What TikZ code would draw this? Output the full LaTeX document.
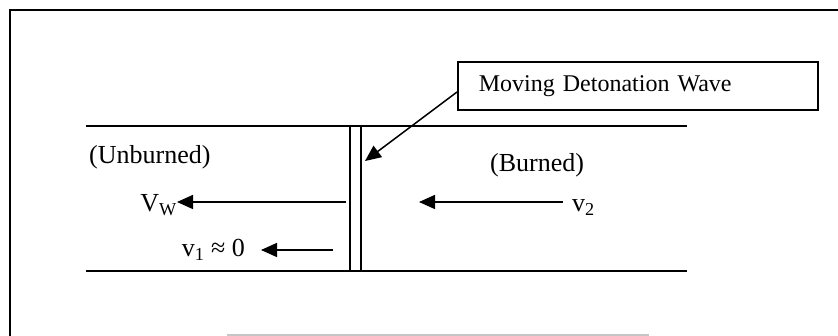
\documentclass[tikz,border=0pt]{standalone}
\usepackage{fontspec}
\setmainfont{Liberation Serif}
\usetikzlibrary{arrows.meta}
\begin{document}
\begin{tikzpicture}[x=1pt,y=-1pt,
  thick line/.style={line width=1.8pt},
  arr/.style={line width=1.5pt,-{Triangle[length=16pt,width=14pt]}},
  lbl/.style={inner sep=0pt,font=\fontsize{26}{30}\selectfont},
  boxtext/.style={draw,line width=1.8pt,minimum width=360pt,minimum height=48pt,
    inner xsep=21pt,text width=318pt,align=left,font=\fontsize{24}{28}\selectfont}]
\useasboundingbox (0,0) rectangle (838,336);
% frame
\draw[thick line] (838,10) -- (10,10) -- (10,336);
\draw[gray!45,line width=1.2pt] (227,335) -- (649,335);
% tube
\draw[thick line] (86,126) -- (687,126);
\draw[thick line] (86,271) -- (687,271);
\draw[thick line] (350,126) -- (350,271);
\draw[thick line] (361,126) -- (361,271);
% callout
\node[boxtext,anchor=west] (box) at (457,86) {Moving Detonation Wave};
\coordinate (tip) at (365,161);
\draw[arr] ([yshift=-6pt]box.west) -- (tip);
% labels
\node[lbl,anchor=base west] (unb) at (89,164) {(Unburned)};
\node[lbl,anchor=base west] (bur) at (490,172) {(Burned)};
\node[lbl,anchor=base east] (vw) at (177,212) {V\textsubscript{W}};
\node[lbl,anchor=base east] (v1) at (245,257) {v\textsubscript{1} ≈ 0};
\node[lbl,anchor=base west] (v2) at (572,212) {v\textsubscript{2}};
% arrows
\coordinate (vwstart) at (346,202);
\coordinate (v1start) at (333,250);
\coordinate (v1end) at (261,250);
\coordinate (v2end) at (419,202);
\draw[arr] (vwstart) -- (vw.east |- vwstart);
\draw[arr] (v1start) -- (v1end);
\draw[arr] (v2.west |- v2end) ++(-9,0) -- (v2end);
\end{tikzpicture}
\end{document}
